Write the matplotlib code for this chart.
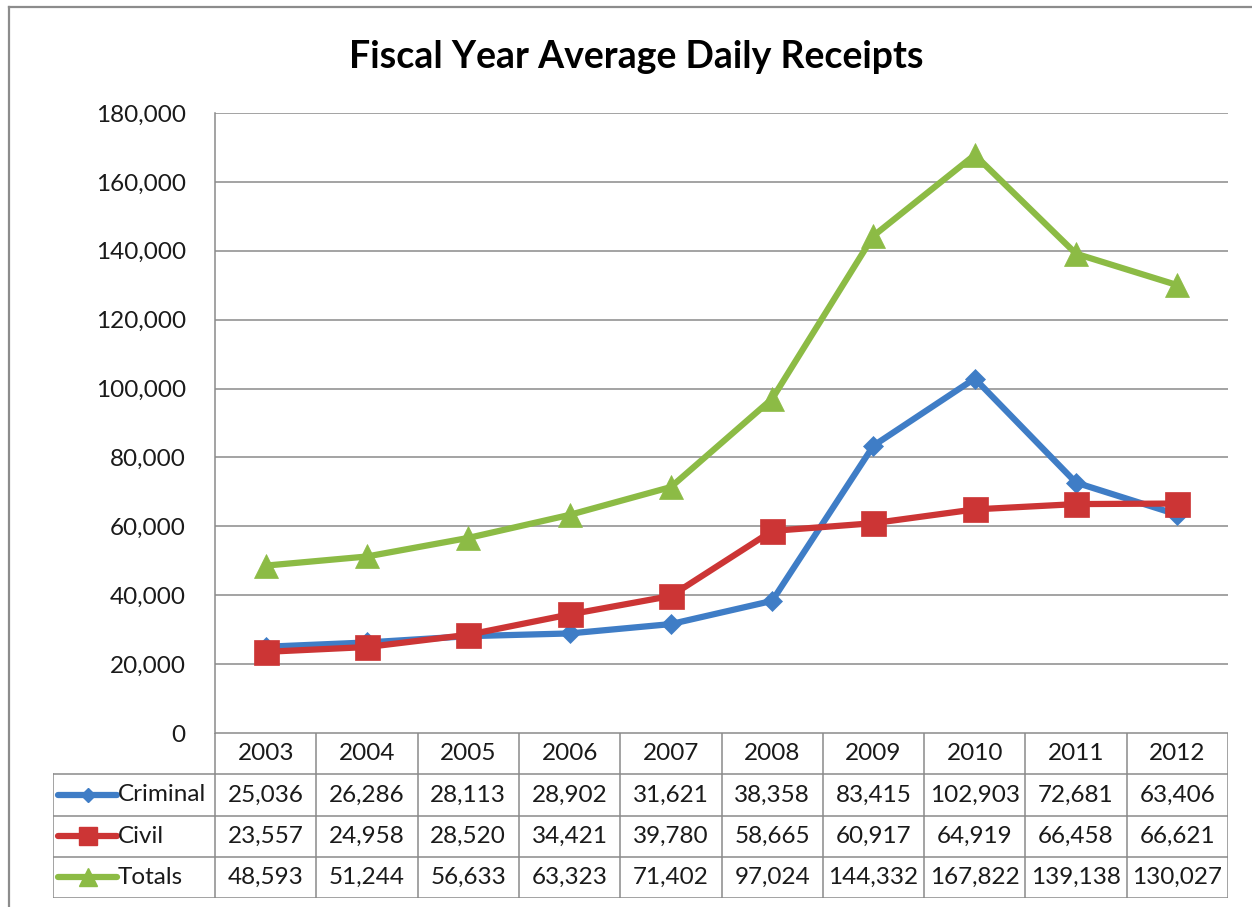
import matplotlib
matplotlib.use("Agg")
import matplotlib.pyplot as plt
from matplotlib.lines import Line2D

YEARS = ["2003", "2004", "2005", "2006", "2007", "2008", "2009", "2010", "2011", "2012"]
CRIMINAL = [25036, 26286, 28113, 28902, 31621, 38358, 83415, 102903, 72681, 63406]
CIVIL = [23557, 24958, 28520, 34421, 39780, 58665, 60917, 64919, 66458, 66621]
TOTALS = [48593, 51244, 56633, 63323, 71402, 97024, 144332, 167822, 139138, 130027]

SERIES = [
    ("Criminal", CRIMINAL, "#3F7DC6", "D", 10),
    ("Civil", CIVIL, "#CC3535", "s", 18),
    ("Totals", TOTALS, "#8CBB45", "^", 17),
]

W, H = 1252, 907
FONT = "Lato"
FS = 17.5
TXT = "#1a1a1a"
GRID = "#8a8a8a"


def px_box(left, top, right, bottom):
    return [left / W, 1 - bottom / H, (right - left) / W, (bottom - top) / H]


fig = plt.figure(figsize=(W / 100, H / 100), dpi=100)
fig.patch.set_facecolor("white")

# outer chart frame (left and top edges visible)
fig.add_artist(Line2D([9 / W, 9 / W], [0, 1 - 7 / H], color="#8c8c8c", lw=1.6))
fig.add_artist(Line2D([9 / W, 1], [1 - 7 / H, 1 - 7 / H], color="#8c8c8c", lw=1.6))

fig.text(636 / W, 1 - 57 / H, "Fiscal Year Average Daily Receipts", ha="center", va="center",
         fontsize=27, fontweight="bold", family=FONT, color="black")

# main plot
ax = fig.add_axes(px_box(215, 113, 1228, 733))
x = list(range(len(YEARS)))
for name, vals, col, mk, ms in SERIES:
    ax.plot(x, vals, color=col, lw=4.5, marker=mk, ms=ms, mfc=col, mec=col, mew=0.5,
            solid_joinstyle="round", zorder=3)

ax.set_xlim(-0.5, len(YEARS) - 0.5)
ax.set_ylim(0, 180000)
ax.set_yticks(range(0, 180001, 20000))
ax.set_yticklabels([f"{v:,}" for v in range(0, 180001, 20000)], family=FONT, fontsize=FS, color=TXT)
ax.tick_params(axis="y", length=0, pad=21)
ax.set_xticks([])
ax.yaxis.grid(True, color=GRID, lw=1.1)
ax.set_axisbelow(True)
for s in ["top", "right", "bottom"]:
    ax.spines[s].set_visible(False)
ax.spines["left"].set_color(GRID)
ax.spines["left"].set_linewidth(1.1)
ax.patch.set_alpha(0)

# data table under the plot
tab = fig.add_axes(px_box(53, 733, 1228, 898))
tab.set_xlim(-2.1, len(YEARS) - 0.5)
tab.set_ylim(4, 0)
tab.axis("off")
lc = dict(color=GRID, lw=1.1)
n = len(YEARS)
# horizontal lines
tab.plot([-0.5, n - 0.5], [0, 0], **lc)
for r in [1, 2, 3, 4]:
    tab.plot([-2.1, n - 0.5], [r, r], **lc)
# vertical lines
tab.plot([-2.1, -2.1], [1, 4], **lc)
for c in range(n + 1):
    tab.plot([c - 0.5, c - 0.5], [0, 4], **lc)

for i, yr in enumerate(YEARS):
    tab.text(i, 0.5, yr, ha="center", va="center", family=FONT, fontsize=FS, color=TXT)

for r, (name, vals, col, mk, ms) in enumerate(SERIES, start=1):
    yc = r + 0.5
    tab.plot([-2.05, -1.47], [yc, yc], color=col, lw=4.5, solid_capstyle="round")
    tab.plot([-1.755], [yc], marker=mk, ms=ms * 0.75, color=col, mec=col)
    tab.text(-1.46, yc, name, ha="left", va="center", family=FONT, fontsize=FS, color=TXT)
    for i, v in enumerate(vals):
        tab.text(i, yc, f"{v:,}", ha="center", va="center", family=FONT, fontsize=FS, color=TXT)

fig.savefig("out.png", dpi=100, facecolor="white")
